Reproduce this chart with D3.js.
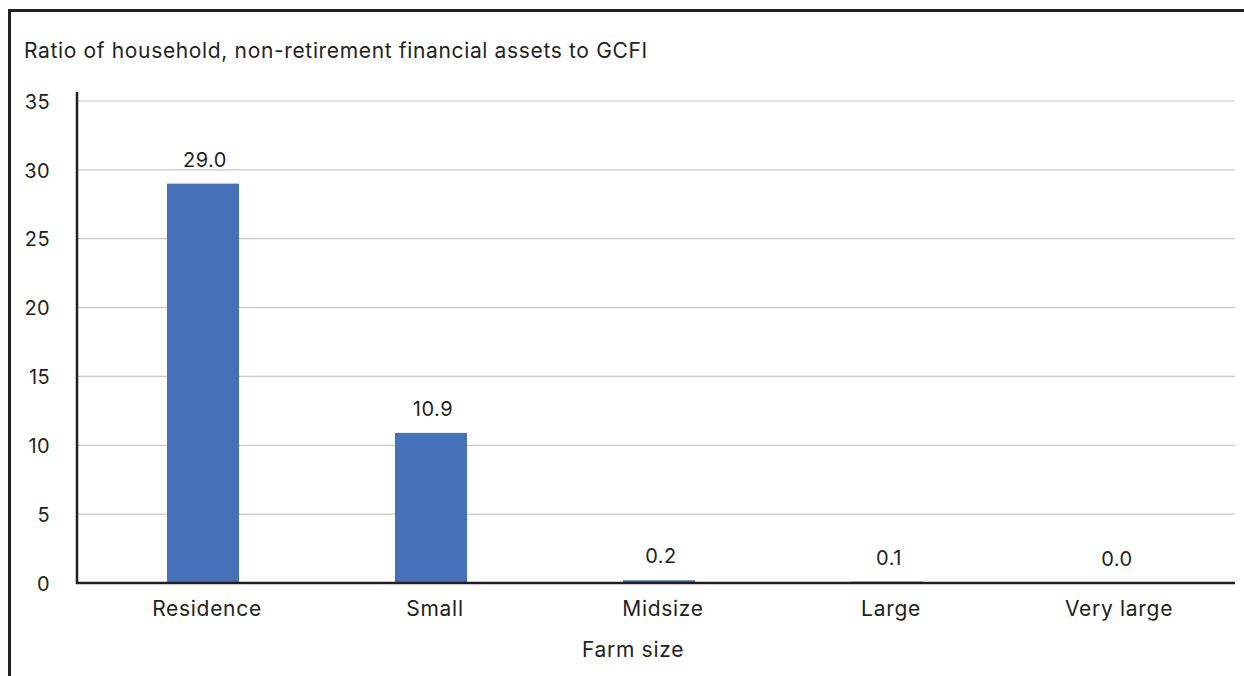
<!DOCTYPE html>
<html>
<head>
<meta charset="utf-8">
<script src="https://cdn.jsdelivr.net/npm/d3@7"></script>
<style>
  html, body { margin: 0; padding: 0; background: #fff; }
  svg { display: block; }
  text { font-family: Inter, "Noto Sans", sans-serif; fill: #231f20; }
</style>
</head>
<body>
<script>
// Farm size categories and the ratio of household, non-retirement financial assets to GCFI
const categories = ["Residence", "Small", "Midsize", "Large", "Very large"];
const values = [29.0, 10.9, 0.2, 0.1, 0.0];
const yTicks = [0, 5, 10, 15, 20, 25, 30, 35];

const W = 1244, H = 676;
const FONT = "Inter, 'Noto Sans', sans-serif";
const svg = d3.select("body").append("svg").attr("width", W).attr("height", H);

// Panel frame: heavy rule on top and left
svg.append("line").attr("x1", 8).attr("x2", W).attr("y1", 10.5).attr("y2", 10.5)
  .attr("stroke", "#231f20").attr("stroke-width", 3);
svg.append("line").attr("x1", 9.5).attr("x2", 9.5).attr("y1", 9).attr("y2", H)
  .attr("stroke", "#231f20").attr("stroke-width", 3);

svg.append("text").attr("x", 24).attr("y", 58)
  .attr("font-size", 21).attr("letter-spacing", 0.65)
  .text("Ratio of household, non-retirement financial assets to GCFI");

const plotLeft = 77, plotRight = 1235, plotTop = 101, plotBottom = 583;

const y = d3.scaleLinear().domain([0, 35]).range([plotBottom, plotTop]);
const x = d3.scaleBand().domain(categories).range([89, 1229])
  .paddingInner(0.684).paddingOuter(0.342);

// Horizontal gridlines
svg.append("g").selectAll("line").data(yTicks.filter(t => t > 0)).join("line")
  .attr("x1", plotLeft).attr("x2", plotRight)
  .attr("y1", d => y(d)).attr("y2", d => y(d))
  .attr("stroke", "#c9c9c9").attr("stroke-width", 1.2);

// Y axis tick labels
const yAxis = svg.append("g").attr("transform", `translate(${plotLeft},0)`)
  .call(d3.axisLeft(y).tickValues(yTicks).tickSize(0).tickPadding(27));
yAxis.select(".domain").remove();
yAxis.selectAll("text").attr("font-size", 20).attr("fill", "#231f20")
  .attr("dy", "0.36em").attr("letter-spacing", 0.4)
  .style("font-family", FONT);

// Bars
svg.append("g").selectAll("rect").data(values).join("rect")
  .attr("x", (d, i) => x(categories[i]))
  .attr("width", x.bandwidth())
  .attr("y", d => y(d))
  .attr("height", d => plotBottom - y(d))
  .attr("fill", "#4671b9");

// Value labels above bars
svg.append("g").selectAll("text").data(values).join("text")
  .attr("x", (d, i) => x(categories[i]) + x.bandwidth() / 2 + 2)
  .attr("y", d => y(d) - 17)
  .attr("text-anchor", "middle").attr("font-size", 20).attr("letter-spacing", 0.5)
  .text(d => d.toFixed(1));

// Y axis line
svg.append("line").attr("x1", plotLeft).attr("x2", plotLeft)
  .attr("y1", 92).attr("y2", plotBottom + 1)
  .attr("stroke", "#231f20").attr("stroke-width", 2.5);

// X axis with category labels
const xAxis = svg.append("g").attr("transform", `translate(4,${plotBottom})`)
  .call(d3.axisBottom(x).tickSize(0).tickPadding(18));
xAxis.select(".domain").remove();
xAxis.selectAll("text").attr("font-size", 21).attr("fill", "#231f20")
  .attr("letter-spacing", 0.7)
  .style("font-family", FONT);
svg.append("line").attr("x1", plotLeft - 1).attr("x2", plotRight)
  .attr("y1", plotBottom).attr("y2", plotBottom)
  .attr("stroke", "#231f20").attr("stroke-width", 2.5);

svg.append("text").attr("x", 633).attr("y", 657)
  .attr("text-anchor", "middle").attr("font-size", 21).attr("letter-spacing", 0.7)
  .text("Farm size");
</script>
</body>
</html>
